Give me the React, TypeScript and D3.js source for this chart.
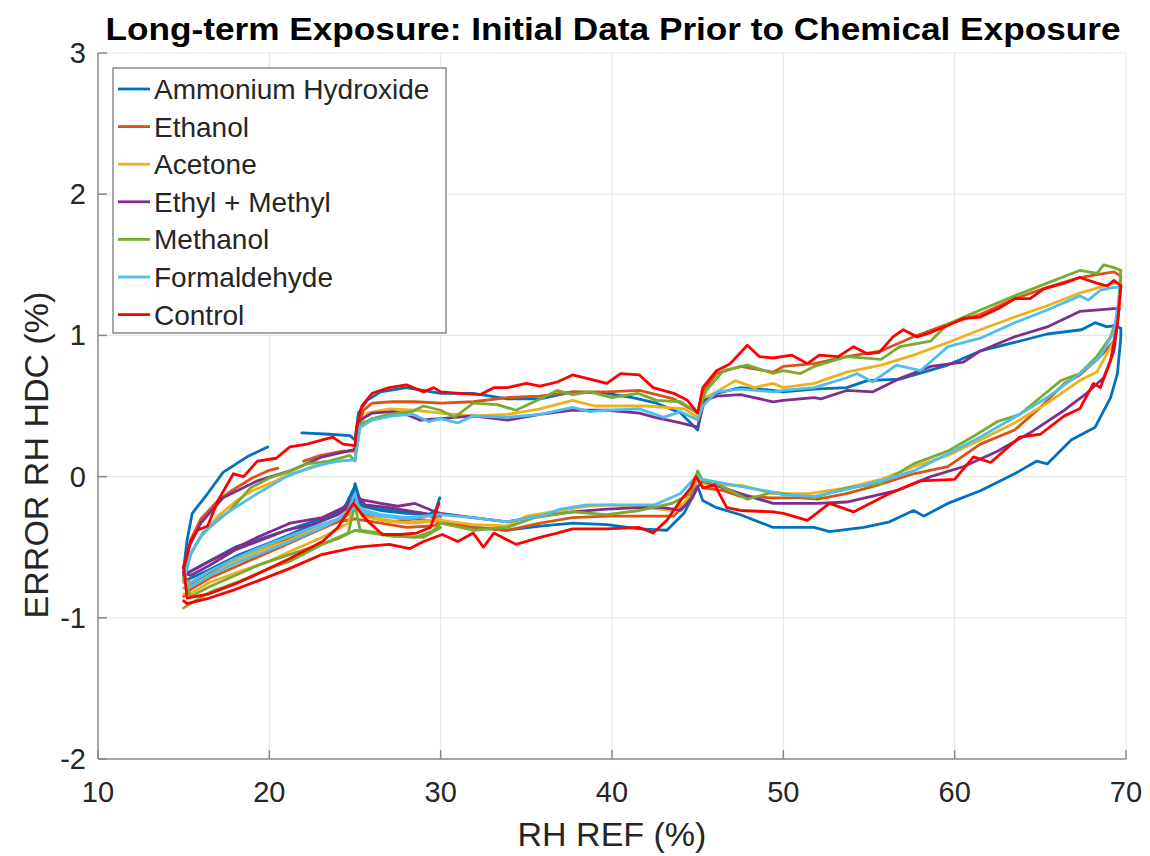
import React, { useEffect } from "react";
import * as d3 from "d3";

type Pt = [number, number];

const TITLE = "Long-term Exposure: Initial Data Prior to Chemical Exposure";
const X_LABEL = "RH REF (%)";
const Y_LABEL = "ERROR RH HDC (%)";
const X_TICKS = [10, 20, 30, 40, 50, 60, 70];
const Y_TICKS = [-2, -1, 0, 1, 2, 3];
const SERIES_NAMES = ["Ammonium Hydroxide", "Ethanol", "Acetone", "Ethyl + Methyl", "Methanol", "Formaldehyde", "Control"];

// Ammonium Hydroxide
const ammoniumRise: Pt[] = [[15,-0.74],[15.4,-0.72],[16.5,-0.66],[18.3,-0.55],[20,-0.47],[21.2,-0.41],[23.1,-0.31],[24.3,-0.24],[24.9,-0.09],[25.3,-0.2],[26.5,-0.23],[28,-0.25],[29,-0.26],[30,-0.31],[31.9,-0.36],[33.9,-0.38],[35.8,-0.35],[37.7,-0.33],[39.7,-0.34],[41.6,-0.37],[43.2,-0.38],[44.2,-0.26],[44.8,-0.12],[45,-0.07],[45.3,-0.17],[46.1,-0.22],[47.5,-0.27],[49.4,-0.36],[50,-0.36],[51.8,-0.36],[52.7,-0.39],[54.7,-0.36],[56.2,-0.32],[57.6,-0.24],[58.2,-0.28],[59.6,-0.19],[61.5,-0.1],[63.5,0.02],[64.8,0.11],[65.4,0.09],[66.8,0.26],[68.2,0.35],[69.1,0.56],[69.5,0.73],[69.7,0.99],[69.7,1.05]];
const ammoniumFall: Pt[] = [[69.7,1.05],[69.3,1.07],[68.9,1.06],[68.2,1.09],[67.4,1.04],[65.4,1.01],[63.5,0.95],[61.5,0.89],[59.6,0.79],[58.2,0.74],[56.8,0.69],[54.9,0.68],[53.7,0.63],[51.8,0.62],[50,0.6],[49.4,0.61],[47.5,0.63],[46.1,0.59],[45.3,0.52],[45,0.33],[44,0.45],[42.6,0.52],[41.2,0.56],[39.7,0.59],[37.7,0.6],[35.8,0.55],[33.9,0.55],[31.9,0.59],[30,0.59],[28,0.63],[26.5,0.6],[25.7,0.54],[25.2,0.45],[25,0.26],[24.7,0.29],[23.5,0.3],[21.9,0.31]];
const ammoniumFallEnd: Pt[] = [[19.9,0.21],[18.7,0.14],[17.3,0.03],[16.4,-0.12],[15.5,-0.26],[15.2,-0.45],[15,-0.65]];
const ammoniumRise2: Pt[] = [[15,-0.65],[15.3,-0.68],[16.5,-0.6],[18,-0.5],[19.5,-0.44],[21,-0.38],[22.5,-0.32],[24,-0.25],[24.8,-0.18],[25,-0.05],[25.4,-0.21],[26.5,-0.24],[28,-0.26],[29.3,-0.27],[29.7,-0.24],[29.95,-0.15]];

// Ethanol
const ethanolRise: Pt[] = [[15,-0.85],[15.4,-0.8],[16.5,-0.72],[18,-0.64],[19.5,-0.56],[21,-0.48],[22.5,-0.4],[24,-0.32],[24.8,-0.25],[25,-0.15],[25.4,-0.27],[27,-0.32],[28.5,-0.3],[30,-0.32],[31.9,-0.36],[33.9,-0.38],[35.8,-0.33],[37.7,-0.29],[39.7,-0.28],[41.6,-0.28],[43.6,-0.28],[44.6,-0.15],[45,0],[45.3,-0.08],[46.5,-0.1],[47.5,-0.14],[49.4,-0.15],[51,-0.15],[52,-0.16],[53.7,-0.12],[55.5,-0.06],[57.6,0.02],[59.6,0.07],[61.5,0.23],[63.5,0.33],[65,0.49],[66.4,0.66],[67.3,0.72],[68.5,0.85],[69.3,0.96],[69.6,1.2],[69.7,1.42]];
const ethanolFall: Pt[] = [[69.7,1.42],[69.3,1.45],[68.3,1.43],[67.3,1.41],[65.4,1.34],[63.5,1.26],[61.5,1.15],[59.6,1.08],[57.6,0.99],[55.7,0.89],[53.7,0.85],[51.8,0.8],[50,0.78],[49.4,0.74],[47.5,0.78],[46.1,0.73],[45.3,0.6],[45,0.45],[43.6,0.55],[41.6,0.61],[39.7,0.6],[37.7,0.6],[35.8,0.57],[33.9,0.56],[31.9,0.53],[30,0.52],[28.5,0.53],[27.2,0.53],[26,0.52],[25.5,0.47],[25.1,0.3],[25,0.18],[24.3,0.18],[23,0.15],[22,0.11]];
const ethanolFallEnd: Pt[] = [[20.5,0.06],[19.9,0.04],[19,-0.01],[17.8,-0.1],[17,-0.17],[16,-0.3],[15.4,-0.45],[15,-0.7]];
const ethanolRise2: Pt[] = [[15,-0.7],[15.4,-0.76],[16.5,-0.68],[18,-0.6],[19.5,-0.52],[21,-0.45],[22.5,-0.38],[24,-0.32],[25,-0.3],[26.5,-0.33],[28,-0.36],[29.5,-0.35],[30,-0.33]];

// Acetone
const acetoneRise: Pt[] = [[15,-0.83],[15.4,-0.83],[16.5,-0.75],[18.3,-0.67],[20,-0.6],[21.2,-0.53],[23.1,-0.43],[24.6,-0.33],[25,-0.18],[25.4,-0.28],[27,-0.32],[28.5,-0.33],[30,-0.31],[31.9,-0.34],[33.9,-0.35],[35,-0.28],[36.5,-0.25],[38.5,-0.21],[40,-0.2],[42,-0.22],[43.5,-0.24],[44.2,-0.19],[45,-0.02],[45.3,-0.05],[46.5,-0.06],[47.5,-0.06],[49.4,-0.12],[50,-0.12],[51.5,-0.12],[53.7,-0.08],[55.7,-0.02],[57.6,0.07],[59.6,0.15],[61.5,0.26],[63.5,0.38],[65.4,0.52],[67.3,0.68],[68.3,0.74],[69.3,0.96],[69.6,1.2],[69.7,1.37]];
const acetoneFall: Pt[] = [[69.7,1.37],[69.3,1.37],[67.3,1.3],[65.4,1.21],[63.5,1.13],[61.5,1.04],[59.6,0.95],[57.6,0.86],[55.7,0.79],[53.7,0.74],[51.8,0.66],[50,0.63],[49.4,0.66],[48.3,0.63],[47.2,0.68],[46.1,0.6],[45.3,0.55],[45,0.42],[44.2,0.48],[42,0.5],[40,0.5],[39,0.5],[37.7,0.54],[35.8,0.48],[33.9,0.44],[31.9,0.43],[30,0.45],[28.5,0.47],[27,0.48],[25.7,0.45],[25.2,0.35],[25,0.12],[23.5,0.1],[22.4,0.06],[21,0.01],[20.4,-0.03],[19,-0.1],[18.1,-0.17],[17,-0.28],[16,-0.43],[15.4,-0.55],[15,-0.75]];
const acetoneRise2: Pt[] = [[15,-0.75],[15.4,-0.78],[16.5,-0.7],[18,-0.6],[19.5,-0.52],[21,-0.46],[22.5,-0.38],[24,-0.3],[25,-0.2],[26.5,-0.3],[28,-0.33],[30,-0.3]];

// Ethyl + Methyl
const ethylRise: Pt[] = [[15,-0.7],[15.4,-0.67],[16.5,-0.6],[17.3,-0.55],[19.3,-0.43],[21.2,-0.33],[23.1,-0.29],[24.3,-0.22],[24.9,-0.15],[25.2,-0.16],[26.5,-0.19],[27.5,-0.21],[28.5,-0.19],[29.5,-0.24],[30,-0.26],[31.9,-0.29],[33.9,-0.32],[35.8,-0.28],[37.7,-0.25],[39.7,-0.23],[41.6,-0.22],[43,-0.22],[44,-0.24],[44.7,-0.15],[45,-0.07],[45.3,-0.03],[46.5,-0.08],[47.5,-0.12],[49.4,-0.19],[50,-0.19],[52,-0.19],[53.7,-0.18],[56.6,-0.1],[58.6,0],[60.5,0.07],[62.5,0.18],[64.4,0.31],[66.4,0.47],[67.7,0.59],[68.7,0.7],[69.3,0.89],[69.6,1.19]];
const ethylFall: Pt[] = [[69.6,1.19],[69.3,1.19],[67.3,1.17],[65.4,1.06],[63.5,0.99],[61.5,0.89],[60.5,0.81],[58.6,0.78],[56.7,0.69],[55.2,0.6],[53.7,0.61],[52.2,0.55],[51.8,0.56],[50,0.54],[49.4,0.53],[47.5,0.58],[46.1,0.57],[45.4,0.54],[45,0.35],[44,0.38],[42.5,0.42],[41.6,0.45],[39.7,0.47],[37.7,0.47],[35.8,0.44],[33.9,0.4],[31.9,0.43],[30,0.41],[28.8,0.4],[27.8,0.45],[27.2,0.46],[26,0.45],[25.3,0.4],[25,0.2],[24.9,0.19],[23.1,0.14],[21.2,0.04],[19.3,-0.03],[17.3,-0.15],[16,-0.33],[15.3,-0.5],[15,-0.68]];
const ethylRise2: Pt[] = [[15,-0.68],[15.4,-0.7],[16.5,-0.63],[18,-0.52],[19.5,-0.45],[21,-0.38],[22.5,-0.34],[24,-0.27],[24.8,-0.2],[25.1,-0.13],[25.6,-0.2],[27,-0.22],[28.5,-0.25],[30,-0.28]];

// Methanol
const methanolRise: Pt[] = [[15,-0.93],[15.4,-0.9],[16.5,-0.82],[18.3,-0.74],[20,-0.65],[21.2,-0.6],[23.1,-0.48],[24.6,-0.4],[25,-0.2],[25.3,-0.38],[26.5,-0.4],[27,-0.42],[28.5,-0.43],[29.5,-0.39],[30,-0.33],[31.9,-0.38],[33.9,-0.36],[35.5,-0.29],[37.7,-0.25],[39.7,-0.27],[41.6,-0.24],[43.5,-0.19],[44.6,-0.12],[45,0.04],[45.3,-0.03],[46.1,-0.05],[47.9,-0.16],[49.4,-0.11],[50,-0.12],[51.8,-0.15],[53.7,-0.08],[55.7,-0.05],[57.6,0.09],[59.6,0.18],[61.3,0.3],[62.5,0.39],[63.8,0.44],[65,0.56],[66.2,0.68],[67.3,0.73],[68.3,0.85],[69.1,0.99],[69.5,1.13],[69.7,1.46]];
const methanolFall: Pt[] = [[69.7,1.46],[69.3,1.48],[68.7,1.5],[68.3,1.44],[67.3,1.46],[65.4,1.37],[63.5,1.28],[61.5,1.18],[59.6,1.08],[58.6,0.96],[56.8,0.92],[55.7,0.83],[53.7,0.85],[51.8,0.78],[51,0.73],[50,0.75],[49.4,0.73],[47.9,0.79],[46.5,0.75],[45.5,0.61],[45,0.45],[44,0.53],[42.6,0.54],[41.5,0.59],[40,0.56],[38.7,0.6],[37.7,0.58],[36.8,0.61],[35.8,0.55],[34.4,0.47],[33.3,0.51],[31.9,0.52],[30.8,0.42],[30,0.47],[29,0.5],[28.3,0.46],[27,0.44],[26,0.41],[25.3,0.37],[25,0.11],[24.7,0.15],[23.5,0.11],[22.2,0.09],[21,0.03],[20,-0.01],[18.9,-0.08],[17.7,-0.24],[17,-0.31],[16.1,-0.4],[15.4,-0.55],[15,-0.72]];
const methanolRise2: Pt[] = [[15,-0.72],[15.4,-0.85],[16.5,-0.78],[18,-0.7],[19.5,-0.62],[21,-0.56],[22.5,-0.5],[24,-0.44],[25,-0.38],[27,-0.42],[29,-0.43],[30,-0.36]];

// Formaldehyde
const formaldehydeRise: Pt[] = [[15,-0.79],[15.4,-0.78],[16.5,-0.7],[18.3,-0.6],[20,-0.52],[21.2,-0.46],[23.1,-0.36],[24.5,-0.27],[25,-0.12],[25.3,-0.25],[26.5,-0.28],[28,-0.3],[30,-0.27],[31.9,-0.29],[33.9,-0.32],[35.8,-0.28],[37,-0.23],[38.5,-0.2],[40.5,-0.2],[42.5,-0.2],[44,-0.12],[44.9,0],[45.3,-0.02],[47.5,-0.07],[49.4,-0.11],[50,-0.13],[51.8,-0.14],[53.7,-0.09],[55.7,-0.03],[57.6,0.04],[59.6,0.16],[61.5,0.28],[63.5,0.42],[65.4,0.56],[67.3,0.73],[68.5,0.85],[69.3,1.03],[69.7,1.34]];
const formaldehydeFall: Pt[] = [[69.7,1.34],[69.3,1.34],[68.5,1.32],[67.8,1.25],[67.3,1.28],[65.4,1.18],[63.5,1.09],[61.5,0.98],[59.6,0.92],[58,0.75],[56.6,0.79],[55.2,0.67],[54.3,0.73],[53.7,0.7],[51.8,0.63],[50,0.61],[49.4,0.6],[47.5,0.62],[46.1,0.6],[45.3,0.5],[45,0.4],[44,0.46],[43,0.42],[41.6,0.48],[39.7,0.47],[38.7,0.46],[37.7,0.49],[35.8,0.44],[33.9,0.42],[31.9,0.43],[31,0.38],[30,0.41],[29.3,0.39],[28.4,0.44],[27.2,0.43],[26,0.4],[25.3,0.35],[25,0.12],[24,0.11],[22.5,0.07],[21,0],[19.3,-0.12],[18,-0.22],[17,-0.3],[16,-0.42],[15.4,-0.55],[15,-0.74]];
const formaldehydeRise2: Pt[] = [[15,-0.74],[15.4,-0.75],[16.5,-0.67],[18,-0.58],[19.5,-0.5],[21,-0.43],[22.5,-0.36],[24,-0.3],[25,-0.22],[26.5,-0.27],[28,-0.29],[30,-0.27]];

// Control
const controlRise: Pt[] = [[15,-0.88],[15.2,-0.9],[16.5,-0.86],[18,-0.8],[19.3,-0.74],[21.2,-0.65],[23.1,-0.55],[25.1,-0.5],[27,-0.48],[28.2,-0.51],[29,-0.46],[30.1,-0.41],[31,-0.46],[31.9,-0.4],[32.5,-0.5],[33.1,-0.4],[34.4,-0.48],[35.8,-0.43],[36.8,-0.4],[37.7,-0.37],[39.7,-0.37],[41.6,-0.36],[42.4,-0.4],[43.2,-0.31],[44,-0.17],[44.6,-0.08],[44.9,0],[45.3,-0.08],[46,-0.06],[46.7,-0.22],[47.5,-0.24],[49.4,-0.25],[50,-0.26],[51.4,-0.31],[52.7,-0.19],[54.1,-0.25],[56.2,-0.12],[58,-0.03],[60,-0.02],[61.1,0.14],[62.1,0.1],[63.8,0.28],[65,0.3],[66.4,0.43],[67.3,0.48],[68.1,0.66],[68.5,0.63],[69.1,0.82],[69.5,1.08],[69.7,1.35]];
const controlFall: Pt[] = [[69.7,1.35],[69.3,1.39],[68.9,1.35],[68.3,1.37],[67.3,1.41],[66.4,1.37],[65.2,1.33],[64.4,1.26],[63.5,1.26],[62.7,1.2],[61.5,1.13],[60.5,1.12],[59.6,1.07],[58.6,1.02],[57.8,0.99],[57,1.04],[56.4,0.99],[55.6,0.88],[54.9,0.87],[54.1,0.92],[53.2,0.85],[52.1,0.86],[51.4,0.8],[50.5,0.86],[49.4,0.84],[48.6,0.85],[47.9,0.93],[46.9,0.8],[46.1,0.75],[45.3,0.63],[45,0.45],[44.4,0.54],[43.6,0.59],[42.4,0.63],[41.6,0.72],[40.5,0.73],[39.7,0.66],[38.7,0.69],[37.7,0.72],[36.8,0.67],[35.8,0.64],[35,0.66],[33.9,0.63],[33.1,0.63],[32.3,0.58],[31.1,0.59],[30,0.6],[29.6,0.63],[29,0.6],[28,0.65],[27,0.63],[26,0.59],[25.4,0.5],[25.1,0.35],[25,0.22],[24.3,0.23],[23.7,0.28],[23.1,0.26],[22.2,0.23],[21.2,0.21],[20.4,0.13],[19.3,0.11],[18.5,0],[17.9,0.02],[17,-0.17],[16.4,-0.35],[15.8,-0.38],[15.4,-0.46],[15,-0.64]];
const controlRise2: Pt[] = [[15,-0.64],[15.2,-0.86],[16.5,-0.83],[18,-0.76],[19.3,-0.69],[21.2,-0.58],[23.1,-0.46],[24,-0.36],[24.9,-0.19],[25.7,-0.31],[26.6,-0.41],[27.6,-0.41],[28.6,-0.4],[29.4,-0.36],[29.9,-0.19]];

const SERIES_SEGMENTS: Pt[][][] = [
  [ammoniumRise, ammoniumFall, ammoniumFallEnd, ammoniumRise2],
  [ethanolRise, ethanolFall, ethanolFallEnd, ethanolRise2],
  [acetoneRise, acetoneFall, acetoneRise2],
  [ethylRise, ethylFall, ethylRise2],
  [methanolRise, methanolFall, methanolRise2],
  [formaldehydeRise, formaldehydeFall, formaldehydeRise2],
  [controlRise, controlFall, controlRise2],
];

const COLORS = ["#0072BD", "#D95319", "#EDB120", "#7E2F8E", "#77AC30", "#4DBEEE", "#FF0000"];

const W = 1150;
const H = 856;
const FONT = "'Liberation Sans', Arial, Helvetica, sans-serif";

export default function App() {
  useEffect(() => {
    document.body.style.margin = "0";
  }, []);

  const left = 98, right = 1126, top = 53, bottom = 759;
  const x = d3.scaleLinear().domain([10, 70]).range([left, right]);
  const y = d3.scaleLinear().domain([-2, 3]).range([bottom, top]);
  const line = d3.line<Pt>().x((d) => x(d[0])).y((d) => y(d[1]));

  const axisColor = "#8a8a8a";
  const gridColor = "#e8e8e8";
  const tickLen = 9;

  const legX = 113, legY = 68, legW = 333, legH = 265;
  const rowH = 37.6;

  return (
    <svg width={W} height={H} style={{ display: "block", background: "#fff" }}>
      <text x={613} y={40} textAnchor="middle" fontFamily={FONT} fontWeight="bold" fontSize={31} fill="#000" textLength={1015} lengthAdjust="spacingAndGlyphs">
        {TITLE}
      </text>

      {/* grid, with the light top/right frame */}
      <g stroke={gridColor} strokeWidth={1.2}>
        {X_TICKS.slice(1).map((t) => (
          <line key={"gx" + t} x1={x(t)} x2={x(t)} y1={top} y2={bottom} />
        ))}
        {Y_TICKS.slice(1).map((t) => (
          <line key={"gy" + t} x1={left} x2={right} y1={y(t)} y2={y(t)} />
        ))}
      </g>

      {/* data */}
      <g fill="none" strokeWidth={2.8} strokeLinejoin="round" strokeLinecap="round">
        {SERIES_SEGMENTS.map((segs, i) =>
          segs.map((seg, j) => <path key={i + "-" + j} d={line(seg) || ""} stroke={COLORS[i]} />)
        )}
      </g>

      {/* left and bottom axes */}
      <g stroke={axisColor} strokeWidth={1.5} fill="none">
        <line x1={left} x2={left} y1={top} y2={bottom} />
        <line x1={left} x2={right} y1={bottom} y2={bottom} />
        {X_TICKS.map((t) => (
          <line key={"tx" + t} x1={x(t)} x2={x(t)} y1={bottom} y2={bottom - tickLen} />
        ))}
        {Y_TICKS.map((t) => (
          <line key={"ty" + t} x1={left} x2={left + tickLen} y1={y(t)} y2={y(t)} />
        ))}
      </g>

      {/* tick labels */}
      <g fontFamily={FONT} fontSize={29} fill="#262626">
        {X_TICKS.map((t) => (
          <text key={"lx" + t} x={x(t)} y={bottom + 43} textAnchor="middle">
            {t}
          </text>
        ))}
        {Y_TICKS.map((t) => (
          <text key={"ly" + t} x={left - 12} y={y(t) + 10} textAnchor="end">
            {t}
          </text>
        ))}
      </g>

      <text x={(left + right) / 2} y={846} textAnchor="middle" fontFamily={FONT} fontSize={34} fill="#262626">
        {X_LABEL}
      </text>
      <text transform={`translate(48, 455) rotate(-90)`} textAnchor="middle" fontFamily={FONT} fontSize={34} fill="#262626">
        {Y_LABEL}
      </text>

      {/* legend */}
      <rect x={legX} y={legY} width={legW} height={legH} fill="#fff" stroke={axisColor} strokeWidth={1.5} />
      {SERIES_NAMES.map((name, i) => {
        const cy = legY + 21 + i * rowH;
        return (
          <g key={name}>
            <line x1={legX + 5} x2={legX + 37} y1={cy} y2={cy} stroke={COLORS[i]} strokeWidth={2.8} />
            <text x={legX + 41} y={cy + 10} fontFamily={FONT} fontSize={28} fill="#262626">
              {name}
            </text>
          </g>
        );
      })}
    </svg>
  );
}
